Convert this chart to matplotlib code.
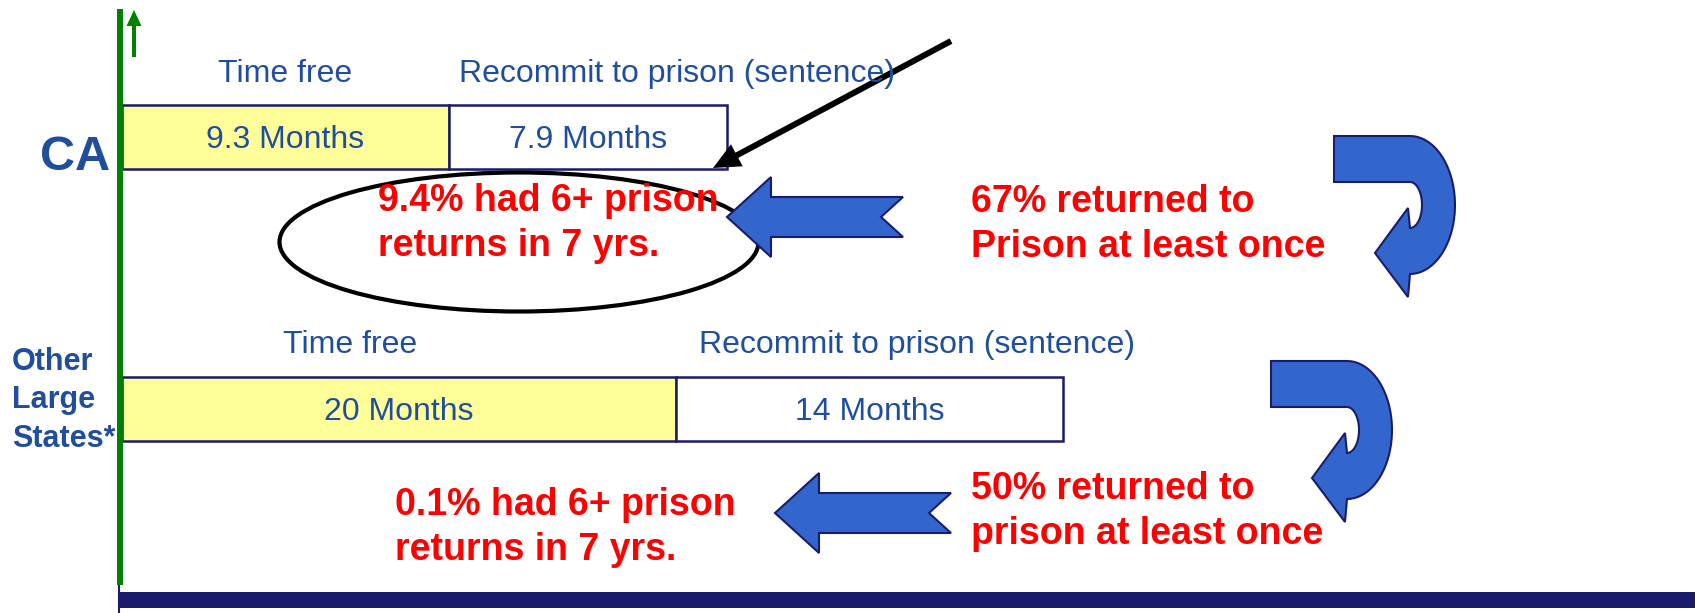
import numpy as np
import matplotlib
matplotlib.use('Agg')
import matplotlib.pyplot as plt
from matplotlib.patches import Ellipse, Polygon, Rectangle

plt.rcParams['font.family'] = ['Liberation Sans', 'DejaVu Sans']

# data
row_names = ['CA', 'Other\nLarge\nStates*']
time_free = [9.3, 20]
recommit = [7.9, 14]
repeat_pct = [9.4, 0.1]
returned_pct = [67, 50]
returned_tail = ['Prison at least once', 'prison at least once']

# colours
BLUE_TXT = '#1f4e9f'
NAVY = '#1b1b6e'
YELLOW = '#ffff99'
ARROW_BLUE = '#3366cc'
RED = '#ff0000'
GREEN = '#008000'

W, H = 1695, 613
fig = plt.figure(figsize=(W / 100, H / 100), dpi=100)

# layout of the two bar rows, in pixels from top-left
bar_left = 122
bar_top = [105, 377]
bar_bottom = [169, 441]
bar_right = [727, 1063]

for i in range(2):
    bx = fig.add_axes([bar_left / W, 1 - bar_bottom[i] / H,
                       (bar_right[i] - bar_left) / W, (bar_bottom[i] - bar_top[i]) / H])
    c1 = bx.barh(0, time_free[i], height=1, color=YELLOW, edgecolor=NAVY, lw=1.8, clip_on=False)
    c2 = bx.barh(0, recommit[i], left=time_free[i], height=1, color='white',
                 edgecolor=NAVY, lw=1.8, clip_on=False)
    labs = bx.bar_label(c1, labels=['%g Months' % time_free[i]], label_type='center',
                        fontsize=23, color=BLUE_TXT)
    labs += bx.bar_label(c2, labels=['%g Months' % recommit[i]], label_type='center',
                         fontsize=23, color=BLUE_TXT)
    for t in labs:
        t.set_va('center_baseline')
    bx.set_xlim(0, time_free[i] + recommit[i])
    bx.set_ylim(-0.5, 0.5)
    bx.axis('off')

# overlay in pixel coordinates
ax = fig.add_axes([0, 0, 1, 1], facecolor='none')
ax.set_xlim(0, W)
ax.set_ylim(H, 0)
ax.axis('off')

# axis lines
ax.plot([119, 119], [585, 613], color=NAVY, lw=1.5)
ax.add_patch(Rectangle((119, 592), W - 119, 16, color=NAVY, lw=0))
ax.plot([119.5, 119.5], [9, 585], color=GREEN, lw=4.3, solid_capstyle='butt')
ax.arrow(134, 57, 0, -47, width=4, head_width=15, head_length=16,
         length_includes_head=True, color=GREEN, lw=0)

# row labels
ax.text(40, 170, row_names[0], fontsize=35, fontweight='bold', color=BLUE_TXT, va='baseline')
for k, (line, y) in enumerate(zip(row_names[1].split('\n'), [370, 408, 447])):
    ax.text(12, y, line, fontsize=22, fontweight='bold', color=BLUE_TXT, va='baseline')

# headers
ax.text(218, 82, 'Time free', fontsize=23, color=BLUE_TXT, va='baseline')
ax.text(459, 82, 'Recommit to prison (sentence)', fontsize=23, color=BLUE_TXT, va='baseline')
ax.text(283, 353, 'Time free', fontsize=23, color=BLUE_TXT, va='baseline')
ax.text(699, 353, 'Recommit to prison (sentence)', fontsize=23, color=BLUE_TXT, va='baseline')

# red notes
rep_x = [378, 395]
rep_y = [211, 515]
ret_x = [971, 971]
ret_y = [212, 499]
for i in range(2):
    ax.text(rep_x[i], rep_y[i], '%g%% had 6+ prison' % repeat_pct[i], fontsize=27,
            fontweight='bold', color=RED, va='baseline')
    ax.text(rep_x[i], rep_y[i] + 45, 'returns in 7 yrs.', fontsize=27,
            fontweight='bold', color=RED, va='baseline')
    ax.text(ret_x[i], ret_y[i], '%d%% returned to' % returned_pct[i], fontsize=27,
            fontweight='bold', color=RED, va='baseline')
    ax.text(ret_x[i], ret_y[i] + 45, returned_tail[i], fontsize=27,
            fontweight='bold', color=RED, va='baseline')

# ellipse and black pointer
ax.add_patch(Ellipse((519, 242), 479, 139, fill=False, ec='black', lw=3))
ax.arrow(951, 41, 713 - 951, 168 - 41, width=6, head_width=25, head_length=27,
         length_includes_head=True, color='black', lw=0)


def left_arrow(tx, ty):
    pts = [(tx, ty), (tx + 44, ty - 40), (tx + 44, ty - 20), (tx + 176, ty - 20),
           (tx + 154, ty), (tx + 176, ty + 20), (tx + 44, ty + 20), (tx + 44, ty + 40)]
    ax.add_patch(Polygon(pts, closed=True, fc=ARROW_BLUE, ec=NAVY, lw=1.5))


def curved_arrow(x0, y0):
    # x0, y0 = top-left corner of the J shaped arrow
    cx, cy = x0 + 76, y0 + 69
    t = np.linspace(-np.pi / 2, np.pi / 2, 40)
    outer = [(cx + 45 * np.cos(a), cy + 69 * np.sin(a)) for a in t]
    inner = [(cx + 12 * np.cos(a), cy + 23 * np.sin(a)) for a in t[::-1]]
    pts = [(x0, y0)] + outer + [(cx - 2, y0 + 161), (cx - 35, y0 + 117), (cx - 2, y0 + 72)] \
        + inner + [(x0, y0 + 46)]
    ax.add_patch(Polygon(pts, closed=True, fc=ARROW_BLUE, ec=NAVY, lw=1.5))


left_arrow(727, 217)
left_arrow(775, 513)
curved_arrow(1334, 136)
curved_arrow(1271, 361)

fig.savefig('out.png', dpi=100)
